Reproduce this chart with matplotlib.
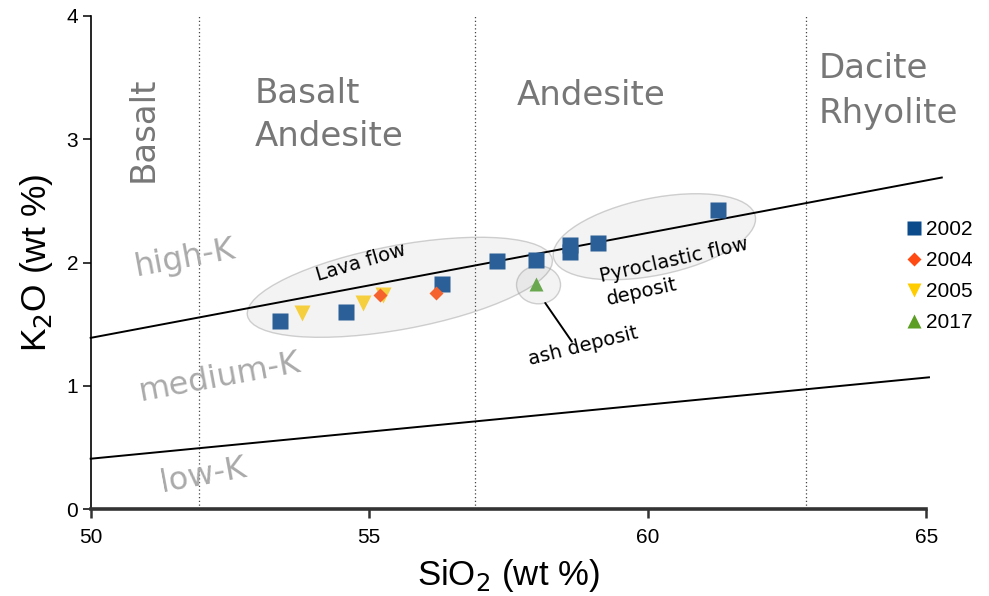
import matplotlib.pyplot as plt
import matplotlib.transforms as mtransforms
from matplotlib.patches import Ellipse
from matplotlib.lines import Line2D

# sample data
sio2_2002 = [53.39, 54.59, 56.30, 57.30, 57.99, 58.60, 58.60, 59.10, 61.26]
k2o_2002 = [1.53, 1.60, 1.83, 2.01, 2.02, 2.14, 2.09, 2.16, 2.43]
sio2_2004 = [55.19, 56.20]
k2o_2004 = [1.74, 1.75]
sio2_2005 = [53.79, 54.89, 55.25]
k2o_2005 = [1.59, 1.67, 1.74]
sio2_2017 = [57.99]
k2o_2017 = [1.83]

# K-series boundaries
high_k_x = [50, 65.28]
high_k_y = [1.39, 2.69]
low_k_x = [50, 65.05]
low_k_y = [0.41, 1.07]

# rock name divisions (SiO2)
rock_div = [51.95, 56.9, 62.85]

years = ['2002', '2004', '2005', '2017']

fig = plt.figure(figsize=(9.89, 5.96), dpi=100)
ax = fig.add_axes([0.0917, 0.1455, 0.8448, 0.8277])
ax.set_xlim(50, 65)
ax.set_ylim(0, 4)

sans = ['Liberation Sans', 'DejaVu Sans']
verd = ['DejaVu Sans']


def blob(cx, cy, w, h, ang):
    # ellipse sized in inches, centred on a data point
    tr = fig.dpi_scale_trans + mtransforms.ScaledTranslation(cx, cy, ax.transData)
    e = Ellipse((0, 0), w, h, angle=ang, transform=tr,
                facecolor=(0.5, 0.5, 0.5, 0.09), edgecolor=(0.6, 0.6, 0.6, 0.45),
                linewidth=1.0, zorder=2)
    ax.add_patch(e)


blob(55.55, 1.80, 3.10, 0.84, 10.5)
blob(60.12, 2.21, 2.06, 0.77, 11.6)
blob(58.04, 1.82, 0.44, 0.38, 0)

ax.vlines(rock_div, 0, 4, colors='#444444', linestyles=(0, (1, 2)), linewidth=0.9, zorder=1)
ax.plot(high_k_x, high_k_y, color='black', lw=1.4, zorder=3, clip_on=False)
ax.plot(low_k_x, low_k_y, color='black', lw=1.4, zorder=3, clip_on=False)

ax.plot(sio2_2002, k2o_2002, 's', ms=11.5, color='#2b5f97', mec='none', zorder=5)
ax.plot(sio2_2004, k2o_2004, 'D', ms=7.5, color='#f5622d', mec='none', zorder=5)
ax.plot(sio2_2005, k2o_2005, 'v', ms=11, color='#f5cf3e', mec='none', zorder=4)
ax.plot(sio2_2017, k2o_2017, '^', ms=10.5, color='#6aa84f', mec='none', zorder=5)

# rock names
gray = '#777777'
ax.text(50.94, 3.08, 'Basalt', rotation=90, ha='center', va='center',
        fontsize=24.5, color=gray, family=verd)
ax.text(52.95, 3.295, 'Basalt', ha='left', va='baseline', fontsize=24.5, color=gray, family=verd)
ax.text(52.95, 2.946, 'Andesite', ha='left', va='baseline', fontsize=24.5, color=gray, family=verd)
ax.text(57.65, 3.28, 'Andesite', ha='left', va='baseline', fontsize=24.5, color=gray, family=verd)
ax.text(63.06, 3.50, 'Dacite', ha='left', va='baseline', fontsize=24.5, color=gray, family=verd)
ax.text(63.06, 3.13, 'Rhyolite', ha='left', va='baseline', fontsize=24.5, color=gray, family=verd)

# K series names
lgray = '#aaaaaa'
ax.text(51.69, 2.03, 'high-K', rotation=10.5, ha='center', va='center',
        fontsize=23, color=lgray, family=verd)
ax.text(52.30, 1.07, 'medium-K', rotation=10.5, ha='center', va='center',
        fontsize=23, color=lgray, family=verd)
ax.text(52.02, 0.27, 'low-K', rotation=10.5, ha='center', va='center',
        fontsize=23, color=lgray, family=verd)

# deposit labels
ax.text(54.85, 2.00, 'Lava flow', rotation=16.5, ha='center', va='center',
        fontsize=14, family=verd, zorder=6)
ax.text(59.17, 1.846, 'Pyroclastic flow', rotation=12.5, rotation_mode='anchor',
        ha='left', va='baseline', fontsize=14, family=verd, zorder=6)
ax.text(59.29, 1.657, 'deposit', rotation=12.5, rotation_mode='anchor',
        ha='left', va='baseline', fontsize=14, family=verd, zorder=6)
ax.annotate('', xy=(58.16, 1.673), xytext=(58.64, 1.359),
            arrowprops=dict(arrowstyle='-', color='black', lw=1.4, shrinkA=0, shrinkB=0))
ax.text(58.84, 1.325, 'ash deposit', rotation=14, ha='center', va='center',
        fontsize=14, family=verd, zorder=6)

# axes styling
for s in ['top', 'right']:
    ax.spines[s].set_visible(False)
ax.spines['bottom'].set_linewidth(2.6)
ax.spines['bottom'].set_color('#333333')
ax.spines['left'].set_linewidth(1.2)
ax.set_xticks([50, 55, 60, 65])
ax.set_yticks([0, 1, 2, 3, 4])
ax.tick_params(axis='x', length=6.5, width=1.8, pad=7, labelsize=15,
               color='#333333', labelcolor='black')
ax.tick_params(axis='y', length=6, width=1.1, pad=3, labelsize=15)
for lab in ax.get_xticklabels() + ax.get_yticklabels():
    lab.set_family(sans)

ax.set_xlabel('SiO$_2$ (wt %)', fontsize=25, family=sans, labelpad=7)
ax.set_ylabel('K$_2$O (wt %)', fontsize=25.5, family=sans, labelpad=8)

handles = [
    Line2D([], [], ls='none', marker='s', ms=10, color='#0b4a8b', mec='none'),
    Line2D([], [], ls='none', marker='D', ms=7, color='#ff4a14', mec='none'),
    Line2D([], [], ls='none', marker='v', ms=10, color='#ffcc00', mec='none'),
    Line2D([], [], ls='none', marker='^', ms=10, color='#5b9e23', mec='none'),
]
ax.legend(handles, years, loc='upper left', bbox_to_anchor=(0.905, 0.648),
          bbox_transform=fig.transFigure, frameon=False, handlelength=0.8,
          handletextpad=0.2, labelspacing=0.58, borderpad=0,
          prop={'family': sans, 'size': 15})

fig.savefig('out.png', dpi=100)
